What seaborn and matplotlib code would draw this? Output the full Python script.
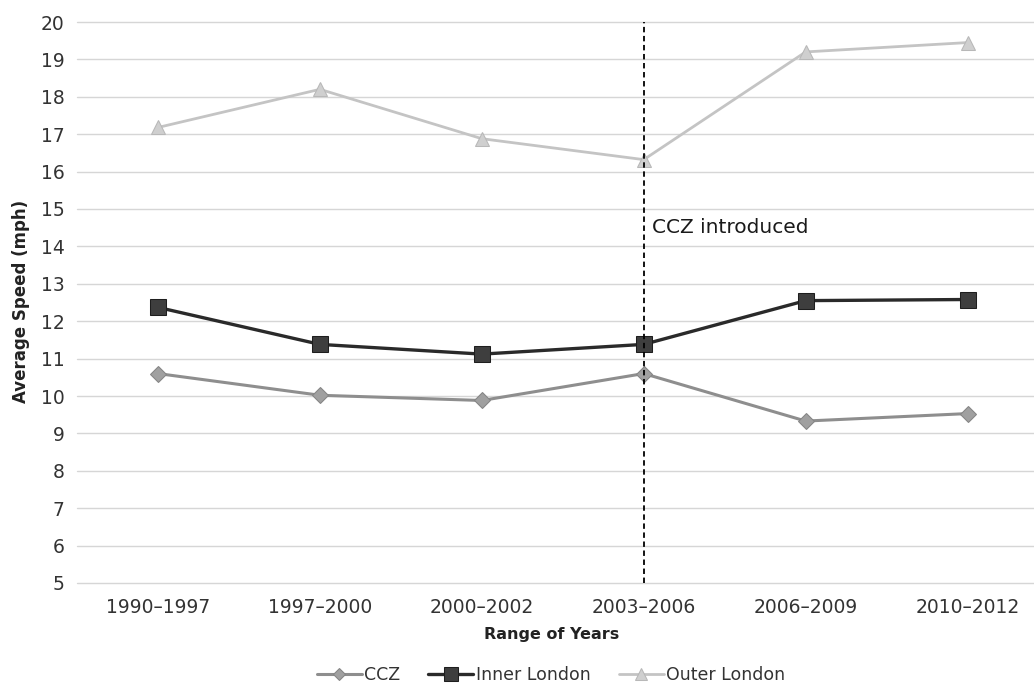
import matplotlib
matplotlib.use("Agg")
import matplotlib.pyplot as plt
import seaborn as sns
import pandas as pd

categories = ["1990–1997", "1997–2000", "2000–2002", "2003–2006", "2006–2009", "2010–2012"]
ccz = [10.6, 10.02, 9.88, 10.6, 9.33, 9.53]
inner_london = [12.37, 11.38, 11.12, 11.38, 12.55, 12.58]
outer_london = [17.18, 18.2, 16.88, 16.32, 19.2, 19.45]
yticks = list(range(5, 21))

sns.set_theme(style="white")
plt.rcParams["font.family"] = ["DejaVu Sans"]

fig = plt.figure(figsize=(10.34, 6.84), dpi=100)
ax = fig.add_axes([77 / 1034, 101 / 684, 957 / 1034, 561 / 684])

series = [
    ("Outer London", outer_london, dict(color="#c4c4c4", marker="^", markersize=10, linewidth=2.0,
                                        markerfacecolor="#cfcfcf", markeredgecolor="#b8b8b8")),
    ("CCZ", ccz, dict(color="#8e8e8e", marker="D", markersize=8, linewidth=2.2,
                      markerfacecolor="#a0a0a0", markeredgecolor="#858585")),
    ("Inner London", inner_london, dict(color="#2a2a2a", marker="s", markersize=12, linewidth=2.4,
                                         markerfacecolor="#3e3e3e", markeredgecolor="#1e1e1e")),
]
for name, vals, kw in series:
    df = pd.DataFrame({"Range": categories, "Speed": vals})
    sns.lineplot(data=df, x="Range", y="Speed", sort=False, ax=ax, label=name, zorder=3, **kw)

ax.axvline(3, color="black", linestyle=(0, (3, 2)), linewidth=1.3, zorder=5)
ax.text(3.05, 14.5, "CCZ introduced", fontsize=14.5, va="center", ha="left", color="#1a1a1a")

ax.set_ylim(5, 20)
ax.set_xlim(-0.5, 5.41)
ax.set_yticks(yticks)
ax.yaxis.grid(True, color="#d6d6d6", linewidth=1.0)
ax.xaxis.grid(False)
for gl in ax.get_ygridlines():
    gl.set_clip_on(False)
for s in ax.spines.values():
    s.set_visible(False)
ax.tick_params(axis="y", length=0, pad=9, labelsize=13.5, labelcolor="#333333")
ax.tick_params(axis="x", length=0, pad=11, labelsize=13.5, labelcolor="#333333")

ax.set_xlabel("Range of Years", fontsize=11.5, fontweight="bold", color="#222222")
ax.set_ylabel("Average Speed (mph)", fontsize=12, fontweight="bold", color="#222222")
ax.xaxis.label.set_va("center")
ax.xaxis.set_label_coords((552 - 77) / 957, (583 - 635) / 561)
ax.yaxis.label.set_va("center")
ax.yaxis.set_label_coords((21 - 77) / 957, (583 - 301) / 561)

handles, labels = ax.get_legend_handles_labels()
ax.get_legend().remove()
order = [labels.index("CCZ"), labels.index("Inner London"), labels.index("Outer London")]
fig.legend([handles[i] for i in order], [labels[i] for i in order],
           loc="center", bbox_to_anchor=(551 / 1034, 1 - 675 / 684), ncol=3, frameon=False,
           fontsize=12.5, handlelength=2.6, handletextpad=0.15, columnspacing=1.6,
           labelcolor="#333333", markerscale=0.8)

fig.savefig("out.png", dpi=100)
